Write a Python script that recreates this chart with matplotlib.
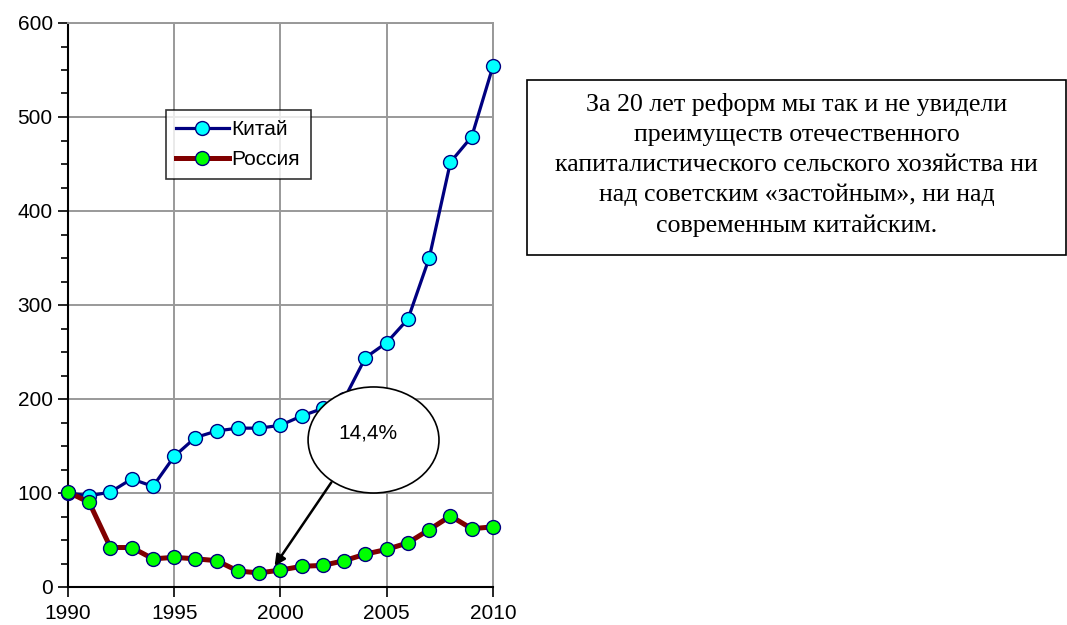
import matplotlib.pyplot as plt
from matplotlib.patches import Ellipse, Rectangle
from matplotlib.ticker import MultipleLocator

years = list(range(1990, 2011))
china = [100, 97, 101, 115, 107, 139, 159, 166, 169, 169, 172,
         182, 190, 200, 244, 260, 285, 350, 452, 479, 554]
russia = [101, 90, 42, 42, 30, 31.5, 30, 28, 17, 15, 18,
          22, 23, 28, 35, 40, 47, 61, 75.5, 62, 64]

callout_text = "14,4%"
note_text = ("За 20 лет реформ мы так и не увидели\n"
             "преимуществ отечественного\n"
             "капиталистического сельского хозяйства ни\n"
             "над советским «застойным», ни над\n"
             "современным китайским.")

plt.rcParams['font.family'] = ['Liberation Sans', 'DejaVu Sans']

fig = plt.figure(figsize=(10.67, 6.25), dpi=100)
ax = fig.add_axes([0.0637, 0.0608, 0.3983, 0.9024])

ax.plot(years, china, "-o", color='#000080', linewidth=2.3,
        markersize=10, markerfacecolor='#00FFFF', markeredgecolor='#000080',
        markeredgewidth=1.0, label="Китай", clip_on=False, zorder=3)
ax.plot(years, russia, "-o", color='#800000', linewidth=3.6,
        markersize=10, markerfacecolor='#00FF00', markeredgecolor='#000080',
        markeredgewidth=1.0, label="Россия", clip_on=False, zorder=3)

ax.set_xlim(1990, 2010)
ax.set_ylim(0, 600)
ax.set_xticks([1990, 1995, 2000, 2005, 2010])
ax.set_yticks([0, 100, 200, 300, 400, 500, 600])
ax.yaxis.set_minor_locator(MultipleLocator(25))
ax.tick_params(axis='both', which='major', direction='out', length=7,
               width=1.2, labelsize=15, colors='black')
ax.tick_params(axis='y', which='minor', direction='out', length=5, width=1.2)
ax.tick_params(axis='x', pad=5)
ax.tick_params(axis='y', pad=4)

ax.grid(True, which='major', color='#999999', linewidth=1.4)
ax.set_axisbelow(True)
ax.spines['left'].set_color('black')
ax.spines['bottom'].set_color('black')
ax.spines['left'].set_linewidth(1.5)
ax.spines['bottom'].set_linewidth(1.5)
ax.spines['top'].set_color('#999999')
ax.spines['right'].set_color('#999999')
ax.spines['top'].set_linewidth(1.4)
ax.spines['right'].set_linewidth(1.4)

leg = ax.legend(loc='upper left', bbox_to_anchor=(0.1556, 0.824),
                bbox_transform=fig.transFigure, fontsize=15, frameon=True,
                fancybox=False, handlelength=2.5, borderpad=0.5,
                labelspacing=0.5, handletextpad=0.15, borderaxespad=0)
leg.get_frame().set_edgecolor('black')
leg.get_frame().set_linewidth(1.2)

# callout ellipse with arrow
ell = Ellipse((2004.38, 156.4), 6.16, 112.8, facecolor='white',
              edgecolor='black', linewidth=1.2, zorder=5)
ax.add_patch(ell)
ax.text(2004.1, 164, callout_text, ha='center', va='center', fontsize=15,
        zorder=6)
ax.annotate("", xy=(1999.65, 20), xytext=(2002.47, 113.8),
            arrowprops=dict(arrowstyle='-|>', color='black', lw=1.8,
                            mutation_scale=16),
            zorder=6)

# note box
fig.patches.append(Rectangle((0.494, 0.592), 0.505, 0.28,
                             transform=fig.transFigure, facecolor='white',
                             edgecolor='black', linewidth=1.2))
fig.text(0.7465, 0.736, note_text, ha='center', va='center', fontsize=18.7,
         family=['Liberation Serif', 'DejaVu Serif'], linespacing=1.45)

plt.savefig("out.png", dpi=100)
